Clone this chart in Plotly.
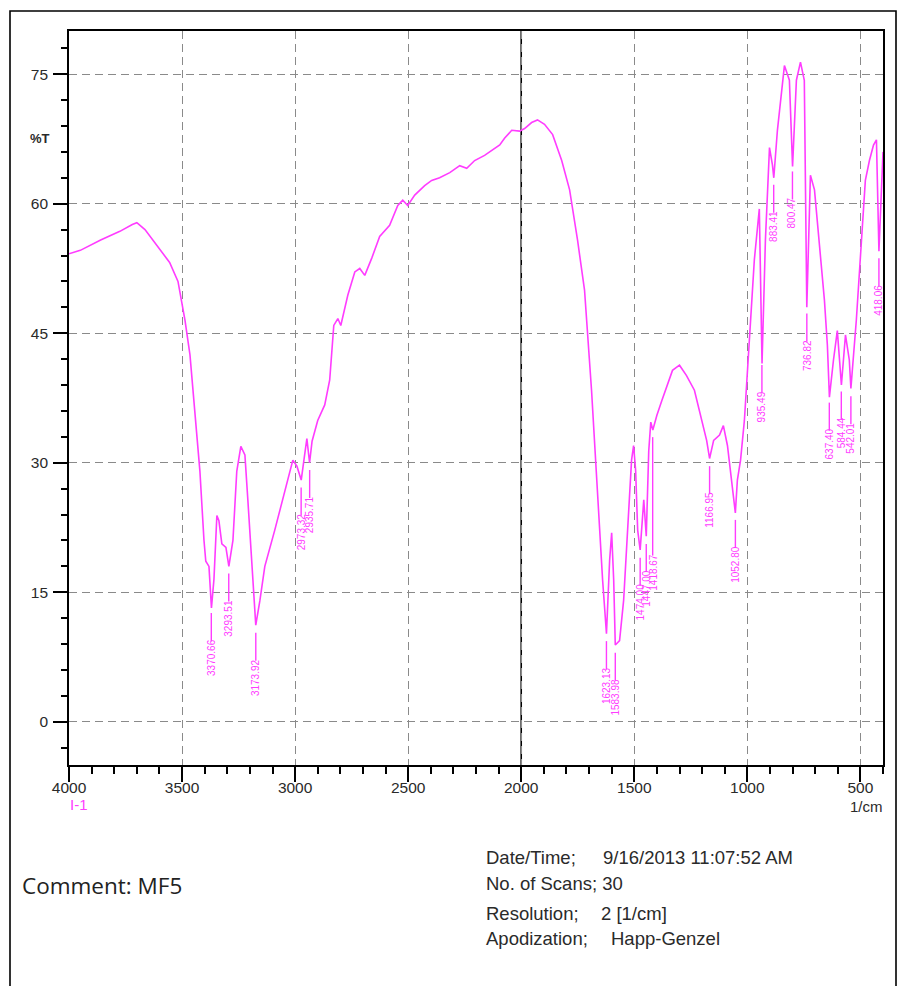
import numpy as np
import plotly.graph_objects as go

# ---------------- data ----------------
wavenumber = [4000, 3950, 3860, 3775, 3720, 3700, 3664, 3600, 3555, 3518, 3487, 3465, 3443,
              3421, 3403, 3395, 3381, 3370, 3359, 3346, 3337, 3324, 3306, 3293, 3275, 3258,
              3240, 3222, 3209, 3191, 3174, 3156, 3134, 3090, 3045, 3010, 2992, 2973, 2960,
              2948, 2936, 2925, 2900, 2869, 2847, 2829, 2811, 2798, 2767, 2736, 2714, 2692,
              2661, 2626, 2582, 2546, 2524, 2502, 2471, 2427, 2396, 2361, 2316, 2272, 2241,
              2206, 2162, 2131, 2095, 2073, 2042, 2007, 1985, 1954, 1928, 1897, 1861, 1821,
              1786, 1751, 1720, 1689, 1662, 1640, 1623, 1609, 1600, 1591, 1584, 1565, 1547,
              1529, 1512, 1503, 1494, 1485, 1474, 1458, 1447, 1436, 1427, 1418, 1400, 1378,
              1353, 1331, 1300, 1269, 1234, 1203, 1180, 1167, 1149, 1123, 1106, 1088, 1075,
              1061, 1053, 1044, 1030, 1013, 991, 969, 947, 935, 920, 902, 889, 883, 867, 836,
              814, 800, 783, 765, 748, 737, 721, 703, 681, 659, 646, 637, 619, 602, 584, 566,
              549, 542, 518, 495, 478, 460, 442, 429, 418, 400]
transmittance = [54.2, 54.6, 55.8, 56.8, 57.6, 57.8, 57.0, 54.8, 53.2, 51.0, 46.5, 42.5, 36.0,
                 29.0, 21.0, 18.6, 18.0, 13.2, 16.5, 23.9, 23.3, 20.6, 20.2, 18.0, 21.0, 29.0,
                 31.9, 30.9, 25.7, 17.6, 11.2, 14.0, 18.0, 22.2, 26.8, 30.3, 29.6, 28.0, 30.5,
                 32.8, 30.0, 32.5, 34.9, 36.7, 39.6, 45.9, 46.7, 45.9, 49.4, 52.1, 52.5, 51.7,
                 53.7, 56.2, 57.5, 59.8, 60.4, 59.8, 61.0, 62.1, 62.7, 63.0, 63.6, 64.4, 64.1,
                 65.0, 65.6, 66.2, 66.8, 67.6, 68.5, 68.4, 68.7, 69.4, 69.7, 69.2, 68.0, 65.0,
                 61.6, 55.8, 50.0, 38.4, 25.7, 16.4, 10.2, 18.7, 21.9, 16.4, 8.9, 9.4, 14.1,
                 22.2, 30.3, 32.0, 29.1, 22.2, 19.9, 25.7, 21.5, 31.4, 34.7, 33.8, 35.5, 37.2,
                 39.0, 40.7, 41.3, 40.1, 38.4, 34.9, 32.6, 30.5, 32.6, 33.2, 34.3, 32.0, 29.1,
                 26.2, 24.2, 28.0, 30.3, 34.9, 44.2, 53.5, 59.4, 41.5, 55.8, 66.5, 64.5, 63.0,
                 68.5, 76.0, 74.3, 64.3, 74.3, 76.4, 74.3, 48.0, 63.3, 61.6, 55.2, 48.8, 43.6,
                 37.6, 41.9, 45.3, 39.0, 44.8, 41.9, 38.6, 46.5, 55.8, 62.7, 65.0, 66.8, 67.4,
                 54.5, 66.0]

peak_positions = [3370.66, 3293.51, 3173.92, 2973.32, 2935.71, 1623.13, 1583.98, 1474.00,
                  1447.00, 1418.67, 1166.95, 1052.80, 935.49, 883.41, 800.47, 736.82,
                  637.40, 584.44, 542.01, 418.06]
peak_labels = ["3370.66", "3293.51", "3173.92", "2973.32", "2935.71", "1623.13", "1583.98",
               "1474.00", "1447.00", "1418.67", "1166.95", "1052.80", "935.49", "883.41",
               "800.47", "736.82", "637.40", "584.44", "542.01", "418.06"]

x_ticks = [4000, 3500, 3000, 2500, 2000, 1500, 1000, 500]
y_ticks = [0, 15, 30, 45, 60, 75]

info_keys = ["Date/Time;", "No. of Scans; 30", "Resolution;", "Apodization;"]
info_vals = ["9/16/2013 11:07:52 AM", "", "2 [1/cm]", "Happ-Genzel"]
comment_text = "Comment: MF5"

# ---------------- layout helpers ----------------
W, H = 898, 986
L, R, T, B = 69, 883, 31, 765
def px_x(p):
    return (p - L) / (R - L)
def px_y(p):
    return (B - p) / (B - T)

MAG = "#ff3cff"
TXT = "#2a2a2a"
FONT = "Liberation Sans"

fig = go.Figure()

# spectrum
wn_sorted = np.array(wavenumber[::-1], dtype=float)
tr_sorted = np.array(transmittance[::-1], dtype=float)
fig.add_trace(go.Scatter(x=wavenumber, y=transmittance, mode="lines",
                         line=dict(color=MAG, width=1.6), hoverinfo="skip",
                         showlegend=False))

# peak leader lines and labels
override_text_top = {"1418.67": 19.6}   # crowded label placed lower (layout)
lx, ly = [], []
annotations = []
for p, lab in zip(peak_positions, peak_labels):
    tv = float(np.interp(p, wn_sorted, tr_sorted))
    top = tv - 0.9
    text_top = override_text_top.get(lab, tv - 3.8)
    bot = text_top - 0.35
    lx += [p, p, None]
    ly += [top, bot, None]
    annotations.append(dict(x=p, y=text_top, xref="x", yref="y", text=lab,
                            showarrow=False, textangle=-90, xanchor="center",
                            yanchor="top", borderpad=0,
                            font=dict(family=FONT, size=10, color=MAG)))
fig.add_trace(go.Scatter(x=lx, y=ly, mode="lines", line=dict(color=MAG, width=1.4),
                         hoverinfo="skip", showlegend=False))

# axis texts
annotations.append(dict(x=px_x(40), y=px_y(138), xref="paper", yref="paper", text="<b>%T</b>",
                        showarrow=False, xanchor="center", yanchor="middle",
                        font=dict(family=FONT, size=13, color=TXT)))
annotations.append(dict(x=px_x(866), y=px_y(806), xref="paper", yref="paper", text="1/cm",
                        showarrow=False, xanchor="center", yanchor="middle",
                        font=dict(family=FONT, size=15, color=TXT)))
annotations.append(dict(x=px_x(79), y=px_y(805), xref="paper", yref="paper", text="I-1",
                        showarrow=False, xanchor="center", yanchor="middle",
                        font=dict(family=FONT, size=15, color=MAG)))

# info block
info_y = [857, 884, 913, 938]
val_x = [601, 0, 599, 609]
for k, v, yy, vx in zip(info_keys, info_vals, info_y, val_x):
    annotations.append(dict(x=px_x(484), y=px_y(yy), xref="paper", yref="paper", text=k,
                            showarrow=False, xanchor="left", yanchor="middle",
                            font=dict(family=FONT, size=18.5, color=TXT)))
    if v:
        annotations.append(dict(x=px_x(vx), y=px_y(yy), xref="paper", yref="paper", text=v,
                                showarrow=False, xanchor="left", yanchor="middle",
                                font=dict(family=FONT, size=18.5, color=TXT)))
annotations.append(dict(x=px_x(20), y=px_y(885), xref="paper", yref="paper", text=comment_text,
                        showarrow=False, xanchor="left", yanchor="middle",
                        font=dict(family="Open Sans", size=22.5, color="#222222")))

shapes = [
    # solid divider at 2000
    dict(type="line", xref="x", yref="paper", x0=2000, x1=2000, y0=0, y1=1,
         line=dict(color="black", width=1.6), layer="between"),
    # outer frame
    dict(type="rect", xref="paper", yref="paper", x0=px_x(10), x1=px_x(896),
         y0=px_y(995), y1=px_y(11), line=dict(color="black", width=1.6), layer="below"),
]

grid_common = dict(gridcolor="#8a8a8a", gridwidth=1.4, griddash="8px,5px",
                   showline=True, linecolor="black", linewidth=1.6, mirror=True,
                   ticks="outside", tickcolor="black", tickwidth=1.6,
                   zeroline=False,
                   tickfont=dict(family=FONT, size=15.5, color=TXT))

fig.update_layout(
    width=W, height=H,
    margin=dict(l=L, r=W - R, t=T, b=H - B, pad=0),
    paper_bgcolor="white", plot_bgcolor="white",
    showlegend=False,
    xaxis=dict(range=[4000, 400], tickvals=x_ticks, ticktext=[str(v) for v in x_ticks],
               ticklen=15, ticklabelstandoff=-7,
               minor=dict(dtick=100, tick0=0, ticklen=7, tickcolor="black", tickwidth=1.6,
                          ticks="outside", showgrid=False),
               **grid_common),
    yaxis=dict(range=[-5, 80], tickvals=y_ticks, ticktext=[str(v) for v in y_ticks],
               ticklen=14, ticklabelstandoff=2,
               minor=dict(dtick=3, tick0=0, ticklen=6, tickcolor="black", tickwidth=1.6,
                          ticks="outside", showgrid=False),
               **grid_common),
    annotations=annotations,
    shapes=shapes,
)

fig.write_html("out.html")
